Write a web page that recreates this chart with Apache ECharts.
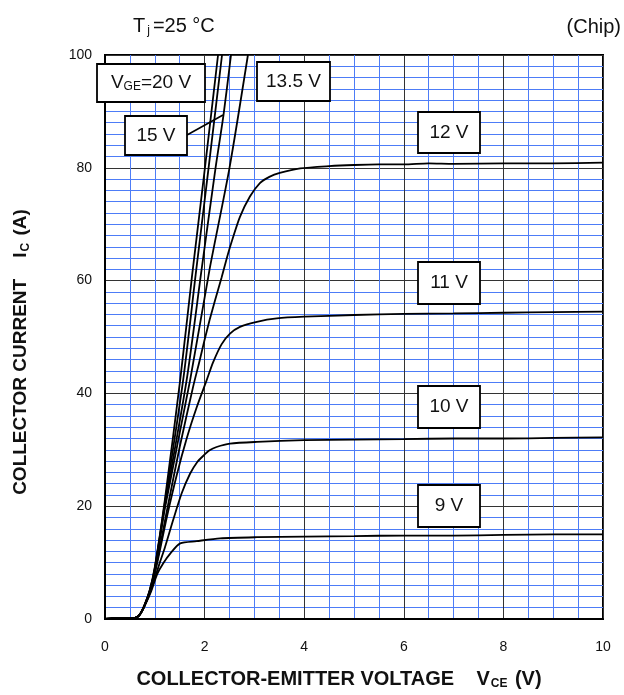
<!DOCTYPE html>
<html><head><meta charset="utf-8">
<script src="https://cdn.jsdelivr.net/npm/echarts@6/dist/echarts.min.js"></script>
<style>html,body{margin:0;padding:0;background:#fff}#c{width:624px;height:695px}</style>
</head><body><div id="c"></div>
<script>
// Output characteristics, Tj = 25 °C (Chip) — [VCE (V), IC (A)]
var vge20 = [[0,0],[0.3,0.2],[0.6,0.2],[0.7,0.8],[0.8,2.6],[0.9,5.2],[1.0,9.2],[1.2,21],[1.51,42.4],[1.75,61],[2.0,79.5],[2.27,100]];
var vge17 = [[0,0],[0.3,0.2],[0.6,0.2],[0.7,0.8],[0.8,2.6],[0.9,5.1],[1.0,9.0],[1.2,20.5],[1.57,42.4],[1.82,61],[2.08,80],[2.35,100]];
var vge15 = [[0,0],[0.3,0.2],[0.6,0.2],[0.7,0.8],[0.8,2.6],[0.9,5.0],[1.0,8.8],[1.2,20],[1.64,42.4],[1.94,62],[2.22,80],[2.38,89.4],[2.53,100]];
var vge135 = [[0,0],[0.3,0.2],[0.6,0.2],[0.7,0.8],[0.8,2.5],[0.9,4.9],[1.0,8.5],[1.2,19.5],[1.71,42.4],[2.1,62],[2.5,80],[2.87,100]];
var vge12 = [[0,0],[0.3,0.2],[0.6,0.2],[0.7,0.8],[0.8,2.5],[0.9,4.8],[1.0,8.2],[1.25,19.5],[1.5,30.5],[1.77,41.2],[1.9,45.8],[2.0,49.5],[2.1,53],[2.21,56.5],[2.34,60.5],[2.44,63.8],[2.54,66.8],[2.71,71.3],[2.91,74.9],[3.11,77.3],[3.3,78.4],[3.51,79.1],[3.92,79.9],[4.5,80.3],[5,80.5],[5.5,80.6],[6,80.6],[6.5,80.8],[7,80.7],[8,80.8],[9,80.8],[10,80.9]];
var vge11 = [[0,0],[0.3,0.2],[0.6,0.2],[0.7,0.8],[0.8,2.5],[0.9,4.8],[1.05,10],[1.24,18],[1.44,25.5],[1.64,32],[1.84,37.5],[2.04,42.3],[2.17,45.5],[2.34,48.7],[2.51,50.6],[2.71,51.8],[3.05,52.7],[3.45,53.3],[4,53.6],[5,53.9],[6,54.1],[7,54.2],[8,54.3],[9,54.4],[10,54.5]];
var vge10 = [[0,0],[0.3,0.2],[0.6,0.2],[0.7,0.8],[0.8,2.4],[0.92,5],[1.1,10],[1.2,12.6],[1.37,17.6],[1.54,22.3],[1.71,25.8],[1.85,27.8],[1.97,28.9],[2.1,29.9],[2.24,30.5],[2.51,31.1],[3.05,31.4],[4,31.7],[5,31.8],[6,31.9],[7,32.0],[8,32.0],[9,32.1],[10,32.2]];
var vge9 = [[0,0],[0.3,0.2],[0.6,0.2],[0.7,0.8],[0.8,2.4],[0.93,5],[1.05,8],[1.17,9.9],[1.31,11.6],[1.51,13.4],[1.84,13.8],[2.31,14.3],[3.05,14.5],[4,14.6],[5,14.7],[6,14.8],[7,14.8],[8,14.9],[9,15.0],[10,15.0]];
var curves = [vge20, vge17, vge15, vge135, vge12, vge11, vge10, vge9];
var xTicks = [0, 2, 4, 6, 8, 10];
var yTicks = [0, 20, 40, 60, 80, 100];

var chart = echarts.init(document.getElementById('c'), null, {renderer: 'canvas'});
var FONT = 'Liberation Sans, Arial, sans-serif';
var BLUE = '#4d7cf7';

function box(x, y, w, h, richText) {
  return [
    {type: 'rect', z: 100, shape: {x: x, y: y, width: w, height: h}, style: {fill: '#fff', stroke: '#000', lineWidth: 1.8}},
    {type: 'text', z: 101, x: x + w / 2, y: y + h / 2, style: {text: richText, fontFamily: FONT, fontSize: 19, fill: '#111', align: 'center', verticalAlign: 'middle',
      rich: {s: {fontSize: 12, fontFamily: FONT, fill: '#111', padding: [8, 0, 0, 0]}}}}
  ];
}

var series = curves.map(function (d) {
  return {type: 'line', data: d, showSymbol: false, smooth: 0.25, clip: true,
    lineStyle: {color: '#000', width: 1.8}, z: 5, silent: true, animation: false};
});

var graphics = [
  {type: 'text', left: 133, top: 16, z: 100, style: {text: 'T{s|j}=25 °C', fontFamily: FONT, fontSize: 20, fill: '#111',
    rich: {s: {fontSize: 12, fontFamily: FONT, fill: '#111', padding: [10, 3, 0, 2]}}}},
  {type: 'text', right: 3, top: 17, z: 100, style: {text: '(Chip)', fontFamily: FONT, fontSize: 20, fill: '#111'}},
  {type: 'text', x: 339, y: 679, z: 100, style: {text: 'COLLECTOR-EMITTER VOLTAGE    V{s|CE} (V)', fontFamily: FONT, fontSize: 20, fontWeight: 'bold', fill: '#111', align: 'center', verticalAlign: 'middle',
    rich: {s: {fontSize: 12, fontWeight: 'bold', fontFamily: FONT, fill: '#111', padding: [9, 2, 0, 1]}}}},
  {type: 'text', x: 21, y: 352, rotation: Math.PI / 2, z: 100, style: {text: 'COLLECTOR CURRENT    I{s|C} (A)', fontFamily: FONT, fontSize: 19, fontWeight: 'bold', fill: '#111', align: 'center', verticalAlign: 'middle',
    rich: {s: {fontSize: 12, fontWeight: 'bold', fontFamily: FONT, fill: '#111', padding: [9, 2, 0, 1]}}}},
  {type: 'line', z: 99, shape: {x1: 187, y1: 135, x2: 223, y2: 115}, style: {stroke: '#000', lineWidth: 1.6}}
].concat(
  box(97, 64, 108, 38, 'V{s|GE}=20 V'),
  box(125, 116, 62, 39, '15 V'),
  box(257, 62, 73, 39, '13.5 V'),
  box(418, 112, 62, 41, '12 V'),
  box(418, 262, 62, 42, '11 V'),
  box(418, 386, 62, 42, '10 V'),
  box(418, 485, 62, 42, '9 V')
);

chart.setOption({
  animation: false,
  backgroundColor: '#fff',
  grid: {left: 105, right: 21, top: 55, bottom: 76, show: true, borderColor: '#000', borderWidth: 2, backgroundColor: 'transparent'},
  xAxis: {
    type: 'value', min: xTicks[0], max: xTicks[xTicks.length - 1], interval: 2,
    axisLine: {show: true, onZero: false, lineStyle: {color: '#000', width: 2}},
    axisTick: {show: false},
    axisLabel: {fontFamily: FONT, fontSize: 14, color: '#111', margin: 21},
    splitLine: {show: true, lineStyle: {color: '#333', width: 1}},
    minorTick: {show: false, splitNumber: 4},
    minorSplitLine: {show: true, lineStyle: {color: BLUE, width: 1}}
  },
  yAxis: {
    type: 'value', min: yTicks[0], max: yTicks[yTicks.length - 1], interval: 20,
    axisLine: {show: true, onZero: false, lineStyle: {color: '#000', width: 2}},
    axisTick: {show: false},
    axisLabel: {fontFamily: FONT, fontSize: 14, color: '#111', margin: 13},
    splitLine: {show: true, lineStyle: {color: '#333', width: 1}},
    minorTick: {show: false, splitNumber: 10},
    minorSplitLine: {show: true, lineStyle: {color: BLUE, width: 1}}
  },
  series: series,
  graphic: graphics
});
</script>
</body></html>
